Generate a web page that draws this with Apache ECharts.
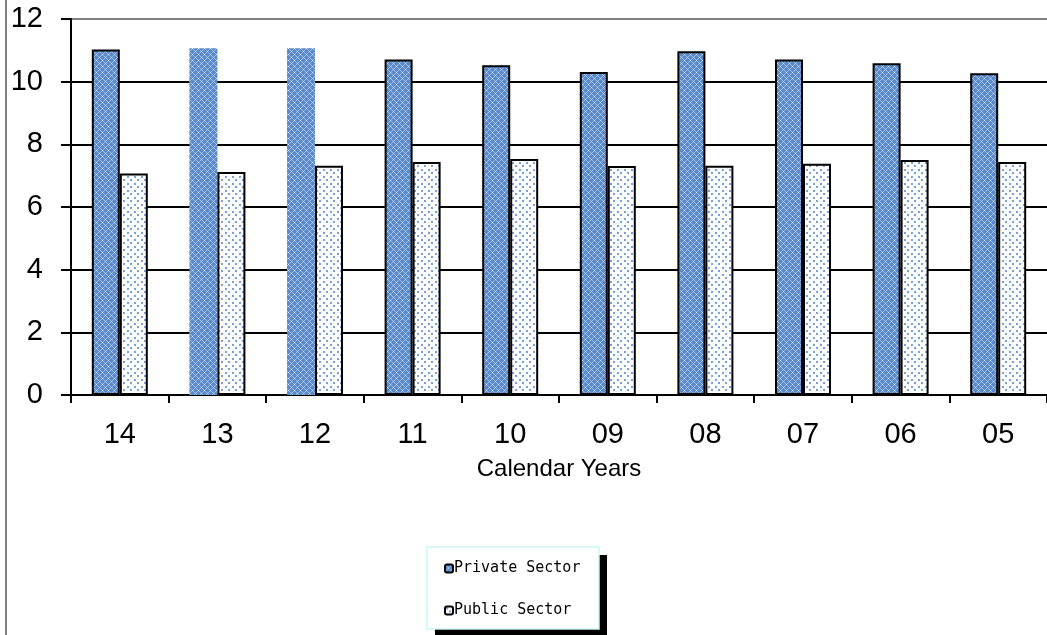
<!DOCTYPE html>
<html><head><meta charset="utf-8">
<script src="https://cdn.jsdelivr.net/npm/echarts@6/dist/echarts.min.js"></script>
<style>html,body{margin:0;padding:0;background:#fff}#c{width:1047px;height:635px}</style>
</head><body><div id="c"></div>
<script>
const categories = ['14','13','12','11','10','09','08','07','06','05'];
const privateSector = [11.03, 11.07, 11.07, 10.71, 10.52, 10.31, 10.97, 10.71, 10.59, 10.27];
const publicSector = [7.07, 7.12, 7.32, 7.44, 7.53, 7.31, 7.32, 7.38, 7.50, 7.44];
const privateNoBorder = ['13','12'];
const yTicks = [0,2,4,6,8,10,12];

function privPattern(){
  const c=document.createElement('canvas');c.width=6;c.height=6;const g=c.getContext('2d');
  g.fillStyle='#5a8acb';g.fillRect(0,0,6,6);
  g.fillStyle='#dbe6f5';
  g.fillRect(0,0,1,1);g.fillRect(3,3,1,1);
  g.fillStyle='#9dbbe3';
  g.fillRect(1,1,1,1);g.fillRect(2,2,1,1);g.fillRect(4,4,1,1);g.fillRect(5,5,1,1);
  g.fillRect(1,5,1,1);g.fillRect(2,4,1,1);g.fillRect(4,2,1,1);g.fillRect(5,1,1,1);
  return {image:c,repeat:'repeat'};
}
function pubPattern(){
  const c=document.createElement('canvas');c.width=7;c.height=7;const g=c.getContext('2d');
  g.fillStyle='#ffffff';g.fillRect(0,0,7,7);
  g.fillStyle='#7aa0da';
  g.fillRect(1,1,2,2);g.fillRect(4,4,2,2);
  return {image:c,repeat:'repeat'};
}
const chart=echarts.init(document.getElementById('c'),null,{renderer:'canvas'});
const pp=privPattern(), bp=pubPattern();
chart.setOption({
  animation:false,
  grid:{left:71,top:19,width:985,height:376,containLabel:false},
  legend:{
    orient:'vertical',left:427,top:547,
    padding:[14,20,13,17],itemGap:27,itemWidth:8,itemHeight:8,
    textStyle:{fontFamily:'DejaVu Sans Mono',fontSize:15,color:'#000',padding:[0,0,0,-4]},
    data:['Private Sector','Public Sector']
  },
  xAxis:{
    type:'category',data:categories,
    name:'Calendar Years',nameLocation:'middle',nameGap:62,
    nameTextStyle:{fontFamily:'Liberation Sans',fontSize:24,color:'#000'},
    axisLine:{lineStyle:{color:'#000',width:2}},
    axisTick:{show:true,length:8,lineStyle:{color:'#000',width:2}},
    axisLabel:{fontFamily:'Liberation Sans',fontSize:29,color:'#000',margin:25}
  },
  yAxis:{
    type:'value',min:0,max:12,interval:2,
    axisLine:{show:true,lineStyle:{color:'#000',width:2}},
    axisTick:{show:true,length:10,lineStyle:{color:'#000',width:2}},
    axisLabel:{fontFamily:'Liberation Sans',fontSize:29,color:'#000',margin:28},
    splitLine:{show:true,lineStyle:{color:yTicks.map(v=>v===12?'#808080':'#000'),width:2}}
  },
  series:[
    {name:'Private Sector',type:'bar',barWidth:28,barGap:'0%',
     itemStyle:{color:pp,borderColor:'#000',borderWidth:2},
     data:privateSector.map((v,i)=>privateNoBorder.includes(categories[i])?{value:v,itemStyle:{borderWidth:0}}:v)},
    {name:'Public Sector',type:'bar',barWidth:28,
     itemStyle:{color:bp,borderColor:'#000',borderWidth:2},
     data:publicSector}
  ],
  graphic:[
    {type:'line',shape:{x1:6,y1:0,x2:6,y2:635},style:{stroke:'#000',lineWidth:1}},
    {type:'rect',z:1,shape:{x:435,y:555,width:172,height:84},style:{fill:'#000'}},
    {type:'rect',z:2,shape:{x:427,y:547,width:172,height:82},style:{fill:'#fff',stroke:'#c8f8f8',lineWidth:1.5}}
  ]
});
</script></body></html>
